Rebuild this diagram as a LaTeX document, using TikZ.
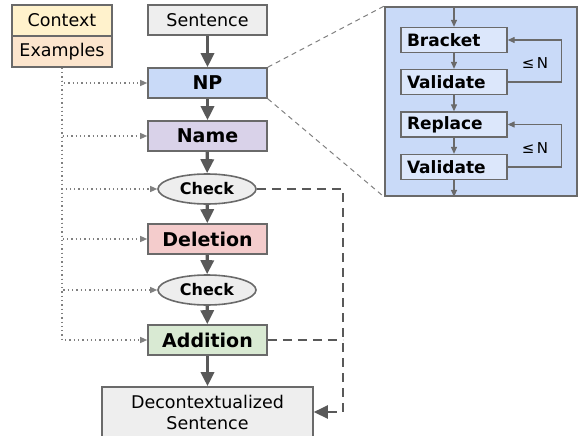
\documentclass[tikz,border=0pt]{standalone}
\usepackage{fontspec}
\setmainfont{DejaVu Sans}
\usetikzlibrary{arrows.meta,shapes.geometric}
\definecolor{ctxc}{HTML}{FFF2CC}
\definecolor{exc}{HTML}{FCE5CD}
\definecolor{grayc}{HTML}{EEEEEE}
\definecolor{npc}{HTML}{C9DAF8}
\definecolor{namec}{HTML}{D9D2E9}
\definecolor{delc}{HTML}{F4CCCC}
\definecolor{addc}{HTML}{D9EAD3}
\definecolor{innerc}{HTML}{DCE7FB}
\definecolor{linec}{HTML}{595959}
\definecolor{borderc}{HTML}{6A6A6A}
\definecolor{dotc}{HTML}{808080}
\begin{document}
\begin{tikzpicture}[x=1pt,y=-1pt,
  basebox/.style={draw=borderc,line width=1.6pt,inner sep=0pt,text=black},
  stage/.style={basebox,minimum width=119pt,minimum height=30pt,font=\fontsize{19}{22}\selectfont\bfseries},
  plain/.style={basebox,font=\fontsize{17.5}{21}\selectfont},
  checknode/.style={basebox,ellipse,fill=grayc,minimum width=98pt,minimum height=30pt,font=\fontsize{16}{19}\selectfont\bfseries},
  inner/.style={draw=borderc,line width=1.3pt,fill=innerc,minimum height=25pt,text width=94pt,align=left,inner xsep=6pt,inner ysep=0pt,font=\fontsize{17}{20}\selectfont\bfseries},
  mainarrow/.style={draw=linec,line width=3.3pt,-{Triangle[width=13pt,length=14pt]}},
  dotarrow/.style={draw=dotc,line width=1.3pt,dash pattern=on 1.3pt off 3pt,-{Triangle[width=6pt,length=7pt]}},
  dashout/.style={draw=linec,line width=2.6pt,dash pattern=on 9pt off 6pt},
  thinarrow/.style={draw=borderc,line width=1.2pt,-{Triangle[width=6pt,length=7pt]}},
  zoomline/.style={draw=dotc,line width=1pt,dash pattern=on 5pt off 4pt}
]
\useasboundingbox (0,0) rectangle (578,436);

% left stack
\node[plain,fill=ctxc,minimum width=100pt,minimum height=31pt] (ctx) at (62,20.5) {Context};
\node[plain,fill=exc,minimum width=100pt,minimum height=31pt] (ex) at (62,51.5) {Examples};

% main column
\node[plain,fill=grayc,minimum width=119pt,minimum height=30pt] (sent) at (207.5,20) {Sentence};
\node[stage,fill=npc] (np) at (207.5,83) {NP};
\node[stage,fill=namec] (name) at (207.5,136) {Name};
\node[checknode] (chk1) at (207,189) {Check};
\node[stage,fill=delc] (del) at (207.5,239) {Deletion};
\node[checknode] (chk2) at (207,290) {Check};
\node[stage,fill=addc] (add) at (207.5,340) {Addition};
\node[plain,fill=grayc,minimum width=211pt,minimum height=50pt,align=center] (dec) at (207.5,412) {Decontextualized\\Sentence};

\draw[mainarrow] (sent) -- (np);
\draw[mainarrow] (np) -- (name);
\draw[mainarrow] (name) -- (chk1);
\draw[mainarrow] (chk1) -- (del);
\draw[mainarrow] (del) -- (chk2);
\draw[mainarrow] (chk2) -- (add);
\draw[mainarrow] (add) -- (dec);

% dotted context lines
\draw[dotarrow] (ex.south) |- (np.west);
\draw[dotarrow] (ex.south) |- (name.west);
\draw[dotarrow] (ex.south) |- (chk1.west);
\draw[dotarrow] (ex.south) |- (del.west);
\draw[dotarrow] (ex.south) |- (chk2.west);
\draw[dotarrow] (ex.south) |- (add.west);

% dashed output
\draw[dashout,-{Triangle[width=13pt,length=14pt]}] (chk1.east) -- ++(86,0) |- (dec.east);
\draw[dashout] (add.east) -- ++(75,0);

% zoom panel
\node[draw=borderc,line width=1.8pt,fill=npc,minimum width=192pt,minimum height=189pt,inner sep=0pt] (panel) at (481,101.5) {};
\draw[zoomline] (np.north east) -- (panel.north west);
\draw[zoomline] (np.south east) -- (panel.south west);

\node[inner] (br) at (454,40) {Bracket};
\node[inner] (v1) at (454,82) {Validate};
\node[inner] (rp) at (454,124.5) {Replace};
\node[inner] (v2) at (454,167) {Validate};

\draw[thinarrow] (panel.north -| br.north) -- (br.north);
\draw[thinarrow] (br) -- (v1);
\draw[thinarrow] (v1) -- (rp);
\draw[thinarrow] (rp) -- (v2);
\draw[thinarrow] (v2.south) -- (panel.south -| v2.south);

\draw[thinarrow] (v1.east) -- ++(54,0) |- (br.east);
\draw[thinarrow] (v2.east) -- ++(54,0) |- (rp.east);
\node[font=\fontsize{15}{18}\selectfont] (n1) at (535,63) {≤\,N};
\node[font=\fontsize{15}{18}\selectfont] (n2) at (535,148) {≤\,N};
\end{tikzpicture}
\end{document}
